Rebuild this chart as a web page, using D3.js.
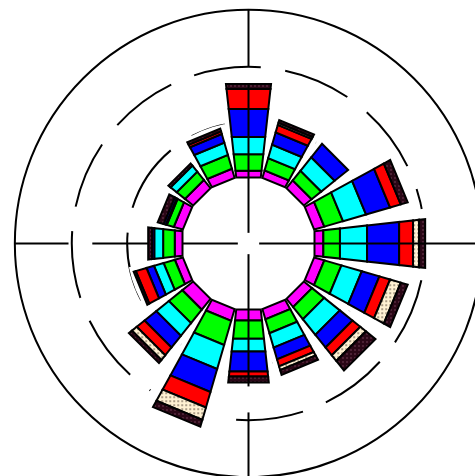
<!DOCTYPE html>
<html><head><meta charset="utf-8">
<script src="https://cdn.jsdelivr.net/npm/d3@7"></script>
<style>html,body{margin:0;padding:0;background:#fff;}svg{display:block;}</style>
</head><body>
<svg id="chart" width="475" height="476"></svg>
<script>
// ---- data ----
const directions = ["N","NNE","NE","ENE","E","ESE","SE","SSE","S","SSW","SW","WSW","W","WNW","NW","NNW"];
const seriesKeys = ["s1","s2","s3","s4","s5","s6","s7"];
const s1 = [1.2,1.4,1.8,1.9,1.6,1.9,1.9,1.9,2.0,2.2,2.5,1.5,1.4,1.7,1.9,1.7];
const s2 = [3.0,2.3,2.2,3.5,3.0,3.2,2.8,2.6,3.3,4.5,3.1,2.1,2.1,1.3,1.9,2.6];
const s3 = [3.1,2.5,3.1,4.3,4.9,3.8,3.6,2.7,2.3,4.5,2.9,1.8,1.6,0.2,1.4,2.3];
const s4 = [5.1,2.3,3.1,4.5,5.8,3.3,2.9,2.2,3.6,4.3,2.7,1.4,0.4,0.4,0.0,1.6];
const s5 = [3.6,1.4,0.0,2.0,2.5,2.0,1.8,1.3,0.9,2.9,1.8,2.0,0.0,0.0,0.0,0.5];
const s6 = [0.0,0.4,0.0,0.0,1.1,2.0,1.3,0.7,0.0,2.3,1.1,0.0,0.0,0.0,0.0,0.0];
const s7 = [0.9,0.5,0.0,1.3,1.1,1.3,2.2,0.9,1.1,1.3,0.7,0.4,0.7,1.1,0.5,0.5];
const seriesColors = ["#ff00ff","#00ff00","#00ffff","#0000ff","#ff0000","url(#creamPat)","url(#darkPat)"];
const ringValues = [10, 20];
const outerValue = 30.3;
const axisSegments = [
  ["N",-10,16.8],["N",20,30.4],
  ["E",-10,30.4],
  ["S",-10,13.9],["S",18.6,30.4],
  ["W",-10,0],["W",6.1,16.3],["W",20.6,30.4]
];

// ---- setup ----
const cx = 248.5, cy = 243.5;
const svg = d3.select("#chart");
const defs = svg.append("defs");
const cp = defs.append("pattern").attr("id","creamPat").attr("patternUnits","userSpaceOnUse").attr("width",4).attr("height",4);
cp.append("rect").attr("width",4).attr("height",4).attr("fill","#fff1d2");
cp.append("rect").attr("x",1).attr("y",1).attr("width",1.3).attr("height",1.3).attr("fill","#3a2a20");
const dp = defs.append("pattern").attr("id","darkPat").attr("patternUnits","userSpaceOnUse").attr("width",4).attr("height",4);
dp.append("rect").attr("width",4).attr("height",4).attr("fill","#2a0716");
dp.append("rect").attr("x",2).attr("y",2).attr("width",1).attr("height",1).attr("fill","#b07090");

const g = svg.append("g").attr("transform", `translate(${cx},${cy})`);
const r = d3.scaleLinear().domain([0, 30]).range([66, 232]);
const ang = d3.scalePoint().domain(directions).range([0, 2*Math.PI - 2*Math.PI/16]);
const step = 2*Math.PI/16;

const rows = directions.map((d,i)=>({dir:d, s1:s1[i], s2:s2[i], s3:s3[i], s4:s4[i], s5:s5[i], s6:s6[i], s7:s7[i]}));
const stacked = d3.stack().keys(seriesKeys)(rows);
const totals = rows.map(row => seriesKeys.reduce((a,k)=>a+row[k],0));

// outer frame circle
g.append("circle").attr("r", r(outerValue)).attr("fill","none").attr("stroke","#000").attr("stroke-width",2);

// dashed rings
const fullCircle = d3.arc().innerRadius(0).startAngle(0).endAngle(2*Math.PI);
ringValues.forEach((v,i)=>{
  const rad = r(v), circ = 2*Math.PI*rad;
  const n = i === 0 ? 8 : 12;
  const period = circ/n;
  const dashFrac = i === 0 ? 33/45 : 22/30;
  const startDeg = i === 0 ? 287 : 12;
  g.append("path").attr("d", fullCircle.outerRadius(rad)())
    .attr("fill","none").attr("stroke","#000").attr("stroke-width",2)
    .attr("stroke-dasharray", `${period*dashFrac},${period*(1-dashFrac)}`)
    .attr("stroke-dashoffset", -(startDeg/360)*circ);
});

// white underlay per direction
const under = d3.arc();
g.selectAll("path.under").data(rows).join("path").attr("class","under")
  .attr("d",(d,i)=>under({innerRadius: r(0)-4, outerRadius: r(totals[i])+5,
     startAngle: ang(d.dir)-step/2, endAngle: ang(d.dir)+step/2}))
  .attr("fill","#fff");

// trapezoid segment path
function seg(theta, r0, r1){
  const hw = rr => (0.22*rr + 10)/2;
  const s = Math.sin(theta), c = Math.cos(theta);
  const P = (rr, o) => [rr*s + o*c, -rr*c + o*s];
  const p = d3.path();
  const a = P(r0,-hw(r0)), b = P(r1,-hw(r1)), e = P(r1,hw(r1)), f = P(r0,hw(r0));
  p.moveTo(a[0],a[1]); p.lineTo(b[0],b[1]); p.lineTo(e[0],e[1]); p.lineTo(f[0],f[1]); p.closePath();
  return p.toString();
}

stacked.forEach((layer, li)=>{
  g.append("g").selectAll("path").data(layer.filter(d=>d[1]-d[0]>0)).join("path")
    .attr("d", d => seg(ang(d.data.dir), r(d[0]), r(d[1])))
    .attr("fill", seriesColors[li])
    .attr("stroke","#000").attr("stroke-width",2).attr("stroke-linejoin","miter");
});

// axis lines
const dirAngle = {N:0, E:Math.PI/2, S:Math.PI, W:3*Math.PI/2};
g.selectAll("line.axis").data(axisSegments).join("line").attr("class","axis")
  .attr("x1", d => r(d[1])*Math.sin(dirAngle[d[0]]))
  .attr("y1", d => -r(d[1])*Math.cos(dirAngle[d[0]]))
  .attr("x2", d => r(d[2])*Math.sin(dirAngle[d[0]]))
  .attr("y2", d => -r(d[2])*Math.cos(dirAngle[d[0]]))
  .attr("stroke","#000").attr("stroke-width",2);
</script>
</body></html>
